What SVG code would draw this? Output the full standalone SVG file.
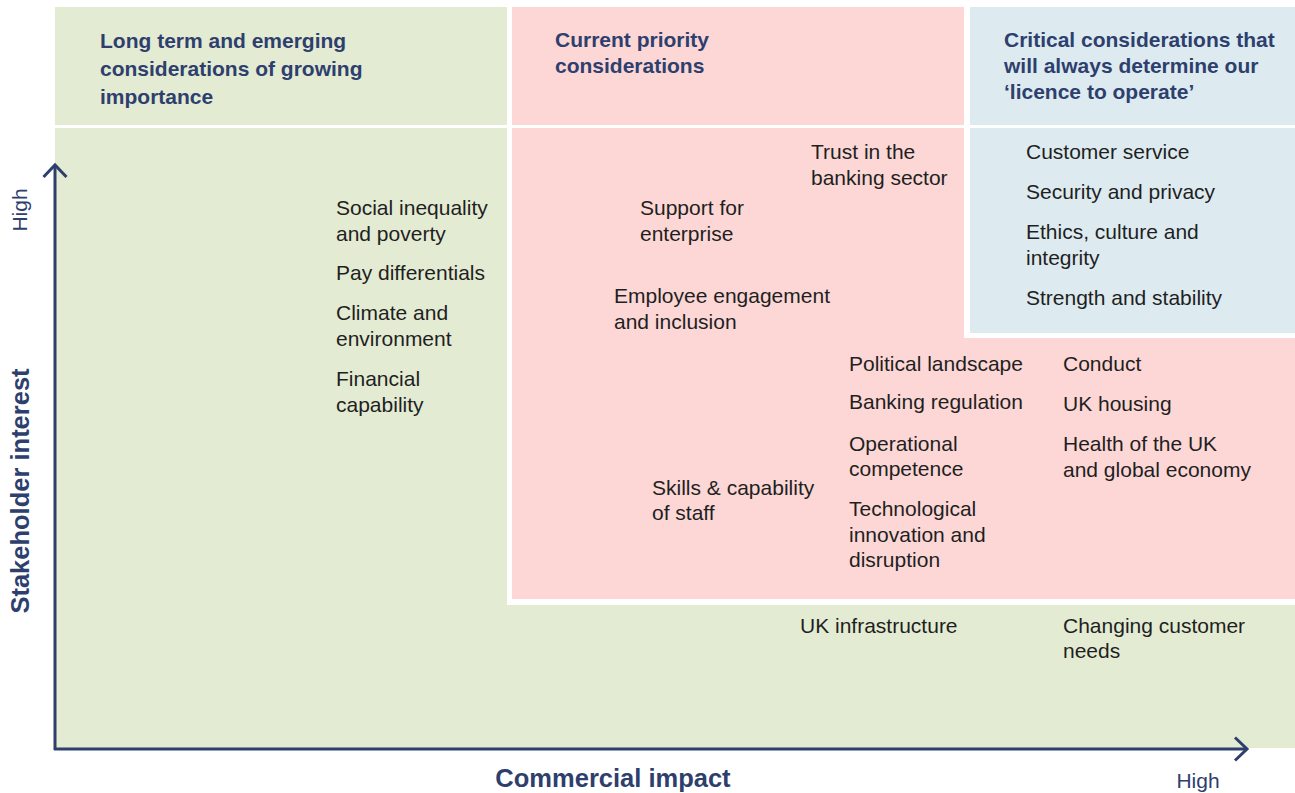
<svg xmlns="http://www.w3.org/2000/svg" width="1295" height="793" viewBox="0 0 1295 793">
  <style>
    .green { fill: #e3ebd3; }
    .red { fill: #fcd7d6; }
    .blue { fill: #ddebf0; }
    .gap { fill: #ffffff; }
    .hdr { font-family: "Liberation Sans", Arial, sans-serif; font-weight: bold; font-size: 21px; fill: #2e3f6e; }
    .item { font-family: "Liberation Sans", Arial, sans-serif; font-size: 21px; fill: #1f1f1f; }
    .axis-title { font-family: "Liberation Sans", Arial, sans-serif; font-weight: bold; font-size: 25.5px; fill: #2e3f6e; }
    .axis-high { font-family: "Liberation Sans", Arial, sans-serif; font-size: 21px; fill: #2e3f6e; }
    .axis { stroke: #2e3f6e; stroke-width: 3; fill: none; stroke-linecap: butt; stroke-linejoin: miter; }
  </style>

  <g id="background">
    <rect class="green" x="55" y="7" width="1240" height="741"/>
    <rect class="gap" x="507" y="7" width="5" height="598"/>
    <rect class="gap" x="507" y="599" width="788" height="6"/>
    <rect class="red" x="512" y="7" width="783" height="592"/>
    <rect class="gap" x="964" y="7" width="6" height="331"/>
    <rect class="gap" x="964" y="333" width="331" height="5"/>
    <rect class="blue" x="970" y="7" width="325" height="326"/>
    <rect class="gap" x="55" y="125" width="1240" height="3"/>
  </g>

  <g id="header-long-term">
    <text class="hdr" x="100" y="48">Long term and emerging</text>
    <text class="hdr" x="100" y="76">considerations of growing</text>
    <text class="hdr" x="100" y="104">importance</text>
  </g>
  <g id="header-current">
    <text class="hdr" x="555" y="47">Current priority</text>
    <text class="hdr" x="555" y="73">considerations</text>
  </g>
  <g id="header-critical">
    <text class="hdr" x="1004" y="47">Critical considerations that</text>
    <text class="hdr" x="1004" y="73">will always determine our</text>
    <text class="hdr" x="1004" y="99">‘licence to operate’</text>
  </g>

  <g id="item-social-inequality"><text class="item" x="336" y="215">Social inequality</text><text class="item" x="336" y="241">and poverty</text></g>
  <g id="item-pay-differentials"><text class="item" x="336" y="280">Pay differentials</text></g>
  <g id="item-climate"><text class="item" x="336" y="320">Climate and</text><text class="item" x="336" y="346">environment</text></g>
  <g id="item-financial-capability"><text class="item" x="336" y="386">Financial</text><text class="item" x="336" y="412">capability</text></g>

  <g id="item-trust"><text class="item" x="811" y="159">Trust in the</text><text class="item" x="811" y="185">banking sector</text></g>
  <g id="item-support-enterprise"><text class="item" x="640" y="215">Support for</text><text class="item" x="640" y="241">enterprise</text></g>
  <g id="item-employee-engagement"><text class="item" x="614" y="303">Employee engagement</text><text class="item" x="614" y="329">and inclusion</text></g>
  <g id="item-skills"><text class="item" x="652" y="495">Skills &amp; capability</text><text class="item" x="652" y="520">of staff</text></g>
  <g id="item-political"><text class="item" x="849" y="371">Political landscape</text></g>
  <g id="item-banking-regulation"><text class="item" x="849" y="409">Banking regulation</text></g>
  <g id="item-operational"><text class="item" x="849" y="451">Operational</text><text class="item" x="849" y="476">competence</text></g>
  <g id="item-technological"><text class="item" x="849" y="516">Technological</text><text class="item" x="849" y="542">innovation and</text><text class="item" x="849" y="567">disruption</text></g>
  <g id="item-conduct"><text class="item" x="1063" y="371">Conduct</text></g>
  <g id="item-uk-housing"><text class="item" x="1063" y="411">UK housing</text></g>
  <g id="item-health-economy"><text class="item" x="1063" y="451">Health of the UK</text><text class="item" x="1063" y="477">and global economy</text></g>

  <g id="item-customer-service"><text class="item" x="1026" y="159">Customer service</text></g>
  <g id="item-security"><text class="item" x="1026" y="199">Security and privacy</text></g>
  <g id="item-ethics"><text class="item" x="1026" y="239">Ethics, culture and</text><text class="item" x="1026" y="265">integrity</text></g>
  <g id="item-strength"><text class="item" x="1026" y="305">Strength and stability</text></g>

  <g id="item-uk-infrastructure"><text class="item" x="800" y="633">UK infrastructure</text></g>
  <g id="item-changing-needs"><text class="item" x="1063" y="633">Changing customer</text><text class="item" x="1063" y="658">needs</text></g>

  <g id="connectors">
    <path class="axis" d="M55 750 V165"/>
    <path class="axis" d="M43.5 177 L55 165 L66.5 177"/>
    <path class="axis" d="M54 749 H1247"/>
    <path class="axis" d="M1235 737.5 L1247 749 L1235 760.5"/>
  </g>

  <g id="axis-labels">
    <text class="axis-title" x="613" y="787" text-anchor="middle">Commercial impact</text>
    <text class="axis-high" x="1198" y="788" text-anchor="middle">High</text>
    <text class="axis-title" transform="translate(29 491) rotate(-90)" text-anchor="middle">Stakeholder interest</text>
    <text class="axis-high" transform="translate(27 210) rotate(-90)" text-anchor="middle">High</text>
  </g>
</svg>
